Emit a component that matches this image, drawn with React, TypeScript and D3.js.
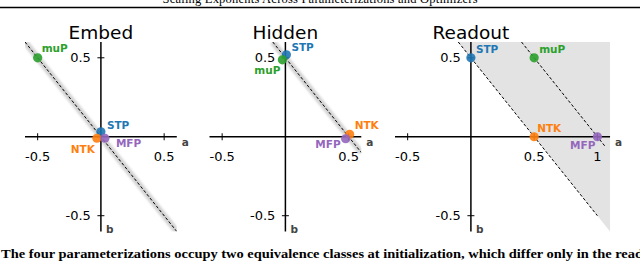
import * as d3 from "d3"

// chart values
const panelNames = ["Embed", "Hidden", "Readout"]
const paramNames = ["STP", "NTK", "muP", "MFP"]
const aValues = [
  [0, 0, -0.5, 0],
  [0, 0.5, 0, 0.5],
  [0, 0.5, 0.5, 1],
]
const bValues = [
  [0, 0, 0.5, 0],
  [0.5, 0, 0.5, 0],
  [0.5, 0, 0.5, 0],
]
// dashed lines a + b = c, drawn for a in [from, to]
const lineSums = [[0], [0.5], [0.5, 1]]
const lineAExtents = [[[-0.6, 0.6]], [[-0.1, 0.6]], [[-0.1, 1.0], [0.4, 1.06]]]
const xLimits = [[-0.6, 0.6], [-0.6, 0.6], [-0.6, 1.1]]
const yLimits = [-0.6, 0.6]
const xTickValues = [[-0.5, 0.5], [-0.5, 0.5], [-0.5, 0.5, 1]]
const yTickValues = [-0.5, 0.5]
const headerText = "Scaling Exponents Across Parameterizations and Optimizers"
const captionText =
  "The four parameterizations occupy two equivalence classes at initialization, which differ only in the read"

// styling
const colors = {STP: "#1f77b4", NTK: "#ff7f0e", muP: "#2ca02c", MFP: "#9467bd"}
const unitPx = 126.5
const panelLefts = [25, 209.5, 395]
const yRange = [231.5, 42]
const sans = "DejaVu Sans, sans-serif"
// pixel nudges so overlapping points stay visible, per panel
const nudges = [
  {STP: [0, -5], NTK: [-4, 1.5], muP: [0, 0], MFP: [4, 1.5]},
  {STP: [1, -3], NTK: [1, -2.5], muP: [-3, 2], MFP: [-3, 2]},
  {STP: [0, 0], NTK: [0, 0], muP: [0, 0], MFP: [0, 0]},
]
// label placement relative to the drawn point: dx, dy, anchor
const labelPos = [
  {muP: [4, -6, "start"], STP: [6, -2.5, "start"], NTK: [-2, 15, "end"], MFP: [11, 9, "start"]},
  {STP: [5, -4, "start"], muP: [-2, 14, "end"], NTK: [5, -5, "start"], MFP: [-5, 9, "end"]},
  {STP: [5, -5, "start"], muP: [5, -5, "start"], NTK: [3, -5, "start"], MFP: [-2, 12, "end"]},
]

const fmt = (v: number) => (v === 1 ? "1" : String(v))

function Panel({i}: {i: number}) {
  const [x0, x1] = xLimits[i]
  const x = d3
    .scaleLinear()
    .domain([x0, x1])
    .range([panelLefts[i], panelLefts[i] + (x1 - x0) * unitPx])
  const y = d3.scaleLinear().domain(yLimits).range(yRange)
  const line = d3
    .line<number[]>()
    .x((d) => x(d[0]))
    .y((d) => y(d[1]))
  const clipId = `clip-${i}`
  const isReadout = i === 2
  const region = isReadout
    ? [
        [0.5 - yLimits[1], yLimits[1]],
        [x1, yLimits[1]],
        [x1, 0.5 - x1],
      ]
    : null

  return (
    <g>
      <defs>
        <clipPath id={clipId}>
          <rect x={x(x0)} y={y(yLimits[1])} width={x(x1) - x(x0)} height={y(yLimits[0]) - y(yLimits[1])} />
        </clipPath>
      </defs>
      <text x={x(0)} y={39} textAnchor="middle" fontFamily={sans} fontSize={18.5} fill="#000">
        {panelNames[i]}
      </text>
      {region && <path d={line(region) + "Z"} fill="#e3e3e3" />}
      <g clipPath={`url(#${clipId})`}>
        {lineSums[i].map((c, k) => {
          const pts = lineAExtents[i][k].map((a) => [a, c - a])
          return (
            <g key={k}>
              {!isReadout && (
                <path d={line(pts)!} stroke="#c8c8c8" strokeWidth={6} opacity={0.8} filter="url(#soft)" fill="none" />
              )}
              <path d={line(pts)!} stroke="#000" strokeWidth={1} strokeDasharray="3,2" fill="none" />
            </g>
          )
        })}
      </g>
      {/* axes through the origin */}
      <line x1={x(x0)} x2={x(x1)} y1={y(0)} y2={y(0)} stroke="#000" strokeWidth={1.5} />
      <line x1={x(0)} x2={x(0)} y1={y(yLimits[0])} y2={y(yLimits[1])} stroke="#000" strokeWidth={1.5} />
      {xTickValues[i].map((t) => (
        <g key={"x" + t}>
          <line x1={x(t)} x2={x(t)} y1={y(0) - 3.5} y2={y(0) + 3.5} stroke="#000" strokeWidth={1} />
          <text x={x(t)} y={y(0) + 24} textAnchor="middle" fontFamily={sans} fontSize={13}>
            {fmt(t)}
          </text>
        </g>
      ))}
      {yTickValues.map((t) => (
        <g key={"y" + t}>
          <line x1={x(0) - 3.5} x2={x(0) + 3.5} y1={y(t)} y2={y(t)} stroke="#000" strokeWidth={1} />
          <text x={x(0) - 10} y={y(t)} dy="0.36em" textAnchor="end" fontFamily={sans} fontSize={13}>
            {fmt(t)}
          </text>
        </g>
      ))}
      <text x={x(x1) + 5} y={y(0) + 9} fontFamily={sans} fontSize={10.5} fontWeight="bold" fill="#444">
        a
      </text>
      <text x={x(0) + 5} y={y(yLimits[0]) + 1.5} fontFamily={sans} fontSize={10.5} fontWeight="bold" fill="#444">
        b
      </text>
      {paramNames.map((p, j) => {
        const [nx, ny] = nudges[i][p]
        const cx = x(aValues[i][j]) + nx
        const cy = y(bValues[i][j]) + ny
        const [dx, dy, anchor] = labelPos[i][p]
        return (
          <g key={p}>
            <circle cx={cx} cy={cy} r={4.6} fill={colors[p]} opacity={0.9} />
            <text
              x={cx + (dx as number)}
              y={cy + (dy as number)}
              textAnchor={anchor as string}
              fontFamily={sans}
              fontSize={10.5}
              fontWeight="bold"
              fill={colors[p]}
            >
              {p}
            </text>
          </g>
        )
      })}
    </g>
  )
}

export default function App() {
  return (
    <svg
      width={640}
      height={261}
      style={{position: "absolute", left: 0, top: 0, display: "block", background: "#fff"}}
    >
      <defs>
        <filter id="soft" x="-20%" y="-20%" width="140%" height="140%">
          <feGaussianBlur stdDeviation={1.2} />
        </filter>
      </defs>
      <rect width={640} height={261} fill="#fff" />
      <text x={320} y={3} textAnchor="middle" fontFamily="Liberation Serif, serif" fontSize={12.5} textLength={315}>
        {headerText}
      </text>
      <line x1={0} x2={640} y1={7.5} y2={7.5} stroke="#000" strokeWidth={1.5} />
      {panelNames.map((_, i) => (
        <Panel key={i} i={i} />
      ))}
      <text
        x={1}
        y={258}
        fontFamily="Liberation Serif, serif"
        fontSize={12.5}
        fontWeight="bold"
        textLength={642}
        lengthAdjust="spacingAndGlyphs"
      >
        {captionText}
      </text>
    </svg>
  )
}
